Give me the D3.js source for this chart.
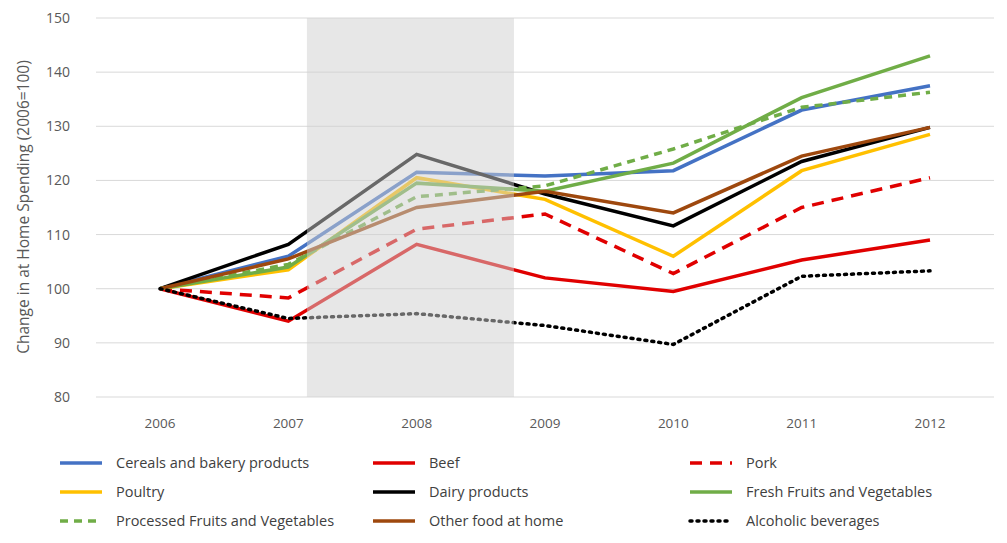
<!DOCTYPE html>
<html><head><meta charset="utf-8">
<script src="https://cdn.jsdelivr.net/npm/d3@7/dist/d3.min.js"></script>
<style>body{margin:0;background:#fff}</style></head>
<body><svg id="c" width="1007" height="543"></svg>
<script>
const years=[2006,2007,2008,2009,2010,2011,2012];
const yTicks=[80,90,100,110,120,130,140,150];
const cereals=[100,106,121.5,120.8,121.8,133,137.5];
const beef=[100,94,108.2,102,99.5,105.3,109];
const pork=[100,98.3,111,113.8,102.8,115,120.5];
const poultry=[100,103.5,120.5,116.5,106,121.8,128.5];
const dairy=[100,108.2,124.8,117.5,111.6,123.5,129.8];
const fresh=[100,104,119.5,118,123.2,135.3,143];
const processed=[100,104.5,117,119,125.8,133.5,136.3];
const other=[100,105.5,115,118,114,124.5,129.8];
const alcohol=[100,94.5,95.4,93.2,89.7,102.3,103.3];
const recession=[2007.145,2008.758];
const series=[
 {name:"Cereals and bakery products",v:cereals,c:"#4472C4",d:null},
 {name:"Beef",v:beef,c:"#E00000",d:null},
 {name:"Pork",v:pork,c:"#E00000",d:"12,8"},
 {name:"Poultry",v:poultry,c:"#FFC000",d:null},
 {name:"Dairy products",v:dairy,c:"#000000",d:null},
 {name:"Fresh Fruits and Vegetables",v:fresh,c:"#70AD47",d:null},
 {name:"Processed Fruits and Vegetables",v:processed,c:"#70AD47",d:"8,6"},
 {name:"Other food at home",v:other,c:"#9E480E",d:null},
 {name:"Alcoholic beverages",v:alcohol,c:"#000000",d:"2,5"}];
const svg=d3.select("#c");
const x=d3.scaleLinear().domain([2006,2012]).range([160,930]);
const y=d3.scaleLinear().domain([80,150]).range([397,18]);
const F="'Open Sans',sans-serif";
svg.append("g").selectAll("line").data(yTicks).join("line")
 .attr("x1",96).attr("x2",994).attr("y1",d=>y(d)).attr("y2",d=>y(d))
 .attr("stroke","#d9d9d9").attr("stroke-width",1);
svg.append("g").selectAll("text").data(yTicks).join("text")
 .attr("x",70).attr("y",d=>y(d)+5).attr("text-anchor","end")
 .attr("font-family",F).attr("font-size",14).attr("fill","#595959").text(d=>d);
svg.append("g").selectAll("text").data(years).join("text")
 .attr("x",d=>x(d)).attr("y",428).attr("text-anchor","middle")
 .attr("font-family",F).attr("font-size",13.5).attr("fill","#595959").text(d=>d);
svg.append("text").attr("transform","translate(29,207) rotate(-90)").attr("text-anchor","middle")
 .attr("font-family",F).attr("font-size",15.5).attr("fill","#595959").text("Change in at Home Spending (2006=100)");
const line=d3.line().x((d,i)=>x(years[i])).y(d=>y(d));
series.forEach(s=>{
 svg.append("path").attr("d",line(s.v)).attr("fill","none").attr("stroke",s.c)
  .attr("stroke-width",3.5).attr("stroke-dasharray",s.d)
  .attr("stroke-linecap",s.d==="2,5"?"round":"butt");
});
svg.append("rect").attr("x",x(recession[0])).attr("width",x(recession[1])-x(recession[0]))
 .attr("y",y(150)).attr("height",y(80)-y(150)).attr("fill","#d0d0d0").attr("opacity",0.5);
const lx=[60,373,690],ly=[463,492,521];
series.forEach((s,i)=>{
 const gx=lx[i%3],gy=ly[Math.floor(i/3)];
 svg.append("line").attr("x1",gx).attr("x2",gx+42).attr("y1",gy).attr("y2",gy)
  .attr("stroke",s.c).attr("stroke-width",3.5).attr("stroke-dasharray",s.d)
  .attr("stroke-linecap",s.d==="2,5"?"round":"butt");
 svg.append("text").attr("x",gx+56).attr("y",gy+5).attr("font-family",F).attr("font-size",14.5)
  .attr("fill","#404040").text(s.name);
});
</script></body></html>
